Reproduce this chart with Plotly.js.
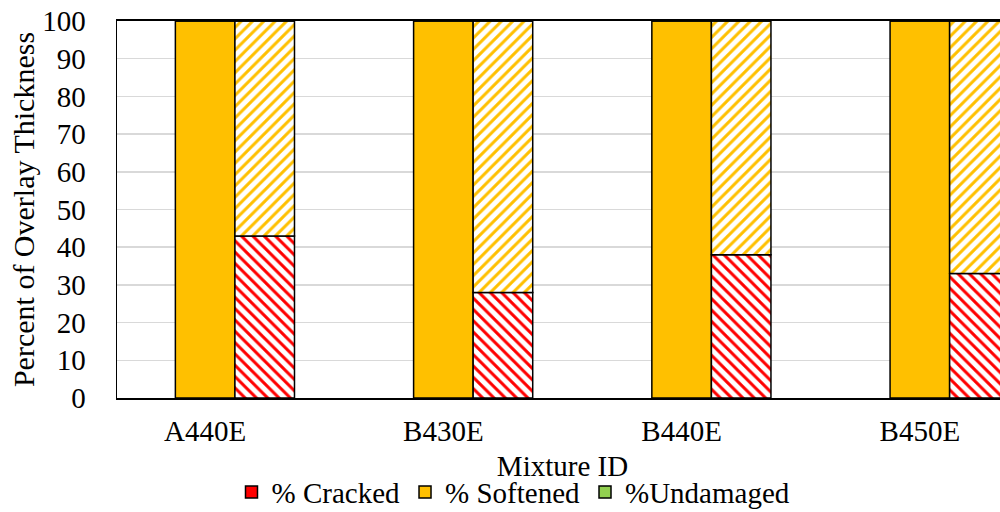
<!DOCTYPE html>
<html>
<head>
<meta charset="utf-8">
<script src="https://cdn.plot.ly/plotly-3.0.1.min.js"></script>
<style>
  html, body { margin: 0; padding: 0; overflow: hidden; background: #ffffff; }
  #chart { width: 1008px; height: 512px; }
</style>
</head>
<body>
<div id="chart"></div>
<script>
// Mixtures on the category axis
const mixtures = ['A440E', 'B430E', 'B440E', 'B450E'];

// First (solid) bar of each mixture, percent of overlay thickness
const solidCracked   = [0, 0, 0, 0];
const solidSoftened  = [100, 100, 100, 100];
const solidUndamaged = [0, 0, 0, 0];

// Second (hatched) bar of each mixture, percent of overlay thickness
const hatchCracked   = [43, 28, 38, 33];
const hatchSoftened  = [57, 72, 62, 67];
const hatchUndamaged = [0, 0, 0, 0];

const RED = '#FF0000', ORANGE = '#FFC000', GREEN = '#92D050';
const FONT = '"Liberation Serif", "Times New Roman", serif';
const BAR_W = 0.25;

// running sums so each segment sits on top of the previous one
function addArr(a, b) { return a.map((v, i) => v + b[i]); }

function segment(name, values, base, color, offset, hatch, showLegend) {
  const marker = { color: color, line: { color: '#000000', width: 1.5 } };
  if (hatch) {
    marker.pattern = { shape: hatch, fgcolor: color, bgcolor: '#FFFFFF', size: 8, solidity: 0.38 };
  }
  return {
    type: 'bar', name: name, x: mixtures, y: values, base: base,
    width: BAR_W, offset: offset, marker: marker,
    showlegend: showLegend, legendgroup: name, hoverinfo: 'x+y+name'
  };
}

const zeros = mixtures.map(() => 0);
const solidBase2 = addArr(zeros, solidCracked);
const solidBase3 = addArr(solidBase2, solidSoftened);
const hatchBase2 = addArr(zeros, hatchCracked);
const hatchBase3 = addArr(hatchBase2, hatchSoftened);

const traces = [
  segment('% Cracked',  solidCracked,   zeros,      RED,    -BAR_W / 2, null, true),
  segment('% Softened', solidSoftened,  solidBase2, ORANGE, -BAR_W / 2, null, true),
  segment('%Undamaged', solidUndamaged, solidBase3, GREEN,  -BAR_W / 2, null, true),
  segment('% Cracked',  hatchCracked,   zeros,      RED,     BAR_W / 2, '\\', false),
  segment('% Softened', hatchSoftened,  hatchBase2, ORANGE,  BAR_W / 2, '/', false),
  segment('%Undamaged', hatchUndamaged, hatchBase3, GREEN,   BAR_W / 2, '/', false)
];

const layout = {
  width: 1008, height: 512,
  margin: { l: 117, r: 0, t: 21, b: 114, autoexpand: false },
  paper_bgcolor: '#ffffff', plot_bgcolor: '#ffffff',
  barmode: 'overlay',
  font: { family: FONT, size: 29, color: '#000000' },
  xaxis: {
    type: 'category', range: [-0.37, 3.37],
    showgrid: false, zeroline: false,
    showline: true, linecolor: '#000000', linewidth: 2, mirror: true,
    ticks: '', ticklabelstandoff: 6,
    tickfont: { family: FONT, size: 29, color: '#000000' },
    title: { text: 'Mixture ID', font: { family: FONT, size: 29, color: '#000000' }, standoff: 10 },
    automargin: false
  },
  yaxis: {
    range: [0, 100], dtick: 10, tick0: 0,
    showgrid: true, gridcolor: '#d9d9d9', gridwidth: 1.5,
    zeroline: false,
    showline: true, linecolor: '#000000', linewidth: 1.5, mirror: true,
    ticks: '', ticklabelstandoff: 24,
    tickfont: { family: FONT, size: 29, color: '#000000' },
    title: { text: 'Percent of Overlay Thickness', font: { family: FONT, size: 30, color: '#000000' } },
    automargin: false
  },
  showlegend: true,
  legend: {
    orientation: 'h', x: 0.445, xanchor: 'center', y: -0.25, yanchor: 'middle',
    font: { family: FONT, size: 29, color: '#000000' },
    bgcolor: 'rgba(0,0,0,0)', traceorder: 'normal'
  }
};

Plotly.newPlot('chart', traces, layout, { displayModeBar: false, staticPlot: true });
</script>
</body>
</html>
